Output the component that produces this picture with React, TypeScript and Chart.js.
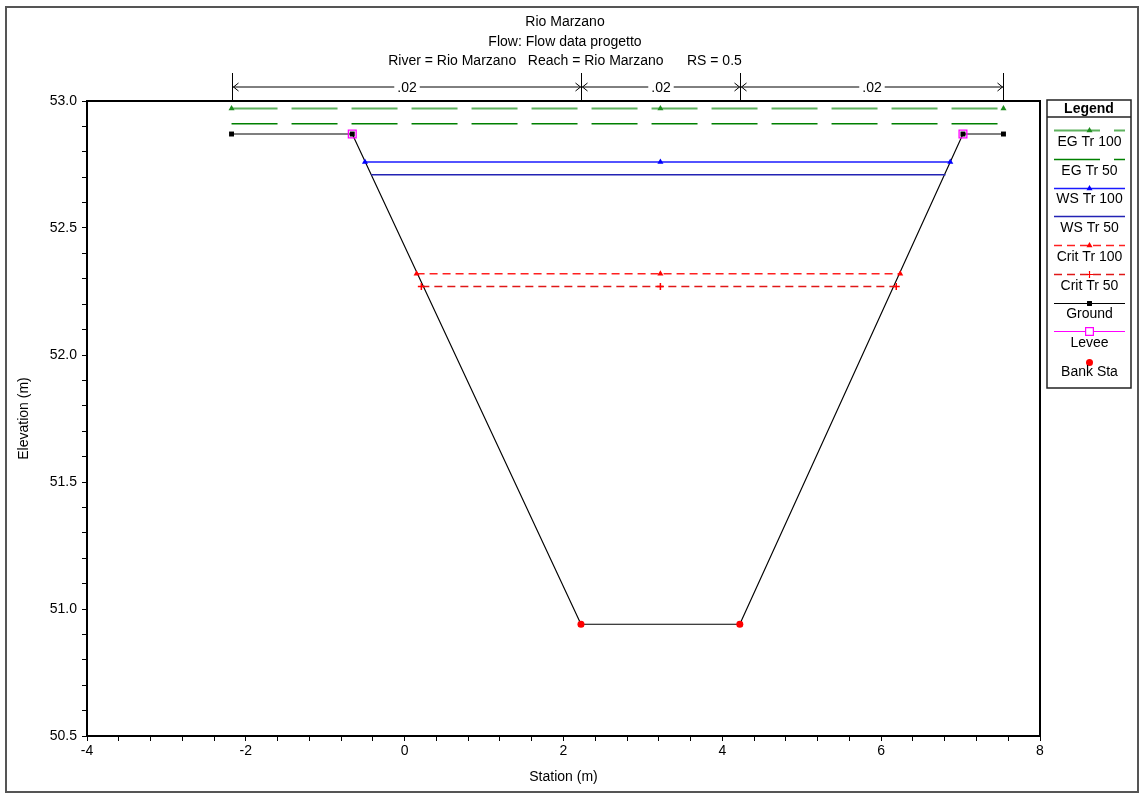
import React, { useEffect, useRef } from 'react';
import { Chart, registerables } from 'chart.js';

Chart.register(...registerables);

// ---------- Text ----------
const titleLines = [
  'Rio Marzano',
  'Flow: Flow data progetto',
  'River = Rio Marzano   Reach = Rio Marzano      RS = 0.5',
];
const xAxisTitle = 'Station (m)';
const yAxisTitle = 'Elevation (m)';
const legendTitle = 'Legend';

// ---------- Data ----------
const groundSta = [-2.18, -0.66, 2.22, 4.22, 7.03, 7.54];
const groundElev = [52.87, 52.87, 50.94, 50.94, 52.87, 52.87];

const leveeSta = [-0.66, 7.03];
const leveeElev = [52.87, 52.87];

const bankSta = [2.22, 4.22];
const bankElev = [50.94, 50.94];

const egTr100Sta = [-2.18, 3.22, 7.54];
const egTr100Elev = [52.97, 52.97, 52.97];

const egTr50Sta = [-2.18, 7.54];
const egTr50Elev = [52.91, 52.91];

const wsTr100Sta = [-0.5, 3.22, 6.87];
const wsTr100Elev = [52.76, 52.76, 52.76];

const wsTr50Sta = [-0.42, 6.81];
const wsTr50Elev = [52.71, 52.71];

const critTr100Sta = [0.15, 3.22, 6.24];
const critTr100Elev = [52.32, 52.32, 52.32];

const critTr50Sta = [0.21, 3.22, 6.19];
const critTr50Elev = [52.27, 52.27, 52.27];

// Manning's n regions
const nBreaks = [-2.18, 2.22, 4.22, 7.54];
const nValues = ['.02', '.02', '.02'];

// Axes
const xMin = -4;
const xMax = 8;
const xMinorStep = 0.4;
const xLabelStep = 2;
const yMin = 50.5;
const yMax = 53.0;
const yMinorStep = 0.1;
const yLabelStep = 0.5;

const FONT = '"Liberation Sans", Arial, sans-serif';

const pts = (xs: number[], ys: number[]) => xs.map((x, i) => ({ x, y: ys[i] }));

function drawMarker(ctx: CanvasRenderingContext2D, style: string, x: number, y: number, r: number, color: string, fill: boolean) {
  ctx.save();
  ctx.setLineDash([]);
  ctx.strokeStyle = color;
  ctx.fillStyle = color;
  ctx.lineWidth = 1.2;
  ctx.beginPath();
  if (style === 'triangle') {
    ctx.moveTo(x, y - r);
    ctx.lineTo(x + r * 0.866, y + r * 0.5);
    ctx.lineTo(x - r * 0.866, y + r * 0.5);
    ctx.closePath();
    ctx.fill();
  } else if (style === 'cross') {
    ctx.moveTo(x - r, y);
    ctx.lineTo(x + r, y);
    ctx.moveTo(x, y - r);
    ctx.lineTo(x, y + r);
    ctx.stroke();
  } else if (style === 'rect') {
    const s = r * Math.SQRT1_2;
    if (fill) {
      ctx.rect(x - s, y - s, 2 * s, 2 * s);
      ctx.fill();
    } else {
      ctx.fillStyle = '#fff';
      ctx.fillRect(x - s, y - s, 2 * s, 2 * s);
      ctx.rect(x - s, y - s, 2 * s, 2 * s);
      ctx.stroke();
    }
  } else if (style === 'circle') {
    ctx.arc(x, y, r, 0, Math.PI * 2);
    ctx.fill();
  }
  ctx.restore();
}

const decorPlugin = {
  id: 'decor',
  beforeDraw(chart: any) {
    const ctx = chart.ctx;
    ctx.save();
    ctx.fillStyle = '#ffffff';
    ctx.fillRect(0, 0, chart.width, chart.height);
    ctx.restore();
  },
  afterDraw(chart: any) {
    const ctx: CanvasRenderingContext2D = chart.ctx;
    const ca = chart.chartArea;
    const xs = chart.scales.x;
    ctx.save();

    // outer frame
    ctx.strokeStyle = '#555';
    ctx.lineWidth = 2;
    ctx.strokeRect(6, 7, 1132, 785);

    // plot frame
    ctx.strokeStyle = '#000';
    ctx.lineWidth = 2;
    ctx.strokeRect(ca.left, ca.top, ca.right - ca.left, ca.bottom - ca.top);

    // titles
    ctx.fillStyle = '#000';
    ctx.font = `14px ${FONT}`;
    ctx.textAlign = 'center';
    ctx.textBaseline = 'middle';
    const titleYs = [22, 42, 61];
    titleLines.forEach((t, i) => ctx.fillText(t, 565, titleYs[i]));

    // Manning's n annotation
    const yA = 87;
    ctx.lineWidth = 1;
    ctx.strokeStyle = '#000';
    const bx = nBreaks.map((b) => Math.round(xs.getPixelForValue(b)) + 0.5);
    bx.forEach((px) => {
      ctx.beginPath();
      ctx.moveTo(px, 73);
      ctx.lineTo(px, ca.top);
      ctx.stroke();
    });
    for (let i = 0; i < nValues.length; i++) {
      const a = bx[i];
      const b = bx[i + 1];
      const mid = (a + b) / 2;
      const tw = ctx.measureText(nValues[i]).width;
      ctx.beginPath();
      ctx.moveTo(a, yA);
      ctx.lineTo(mid - tw / 2 - 3, yA);
      ctx.moveTo(mid + tw / 2 + 3, yA);
      ctx.lineTo(b, yA);
      // arrowheads
      ctx.moveTo(a + 6, yA - 4);
      ctx.lineTo(a + 1, yA);
      ctx.lineTo(a + 6, yA + 4);
      ctx.moveTo(b - 6, yA - 4);
      ctx.lineTo(b - 1, yA);
      ctx.lineTo(b - 6, yA + 4);
      ctx.stroke();
      ctx.fillText(nValues[i], mid, yA + 1);
    }

    // Legend
    const lx0 = 1047;
    const lx1 = 1131;
    ctx.strokeStyle = '#222';
    ctx.lineWidth = 1.5;
    ctx.strokeRect(lx0, 100, lx1 - lx0, 288);
    ctx.beginPath();
    ctx.moveTo(lx0, 117);
    ctx.lineTo(lx1, 117);
    ctx.stroke();
    ctx.font = `bold 14px ${FONT}`;
    ctx.fillText(legendTitle, (lx0 + lx1) / 2, 109);
    ctx.font = `14px ${FONT}`;
    const cx = 1089.5;
    const pitch = 28.75;
    chart.data.datasets.forEach((ds: any, i: number) => {
      const lineY = Math.round(130 + pitch * i) + 0.5;
      const textY = 142 + pitch * i;
      if (ds.showLine || ds.legendLine) {
        ctx.save();
        ctx.strokeStyle = ds.borderColor;
        ctx.lineWidth = ds.borderWidth;
        ctx.setLineDash(ds.borderDash || []);
        ctx.beginPath();
        ctx.moveTo(1054, lineY);
        ctx.lineTo(1125, lineY);
        ctx.stroke();
        ctx.restore();
      }
      if (ds.pointRadius > 0) {
        const isOpen = ds.pointBackgroundColor === 'transparent';
        const my = ds.showLine || ds.legendLine ? lineY : lineY + 2;
        drawMarker(ctx, ds.pointStyle, cx, my, ds.pointRadius, ds.pointBorderColor, !isOpen);
      }
      ctx.fillStyle = '#000';
      ctx.fillText(ds.label, cx, textY);
    });

    ctx.restore();
  },
};

export default function App() {
  const ref = useRef<HTMLCanvasElement>(null);

  useEffect(() => {
    if (!ref.current) return;
    const chart = new Chart(ref.current, {
      type: 'scatter',
      data: {
        datasets: [
          {
            label: 'EG Tr 100',
            data: pts(egTr100Sta, egTr100Elev),
            showLine: true,
            borderColor: 'rgb(95,178,95)',
            borderWidth: 2,
            borderDash: [46, 14],
            pointStyle: 'triangle',
            pointRadius: 3.5,
            pointBackgroundColor: 'rgb(30,140,30)',
            pointBorderColor: 'rgb(30,140,30)',
            pointBorderWidth: 0,
          },
          {
            label: 'EG Tr 50',
            data: pts(egTr50Sta, egTr50Elev),
            showLine: true,
            borderColor: '#008000',
            borderWidth: 1.5,
            borderDash: [46, 14],
            pointStyle: 'circle',
            pointRadius: 0,
            pointBackgroundColor: '#008000',
            pointBorderColor: '#008000',
          },
          {
            label: 'WS Tr 100',
            data: pts(wsTr100Sta, wsTr100Elev),
            showLine: true,
            borderColor: '#1a1aff',
            borderWidth: 1.5,
            pointStyle: 'triangle',
            pointRadius: 3.5,
            pointBackgroundColor: '#0000ff',
            pointBorderColor: '#0000ff',
            pointBorderWidth: 0,
          },
          {
            label: 'WS Tr 50',
            data: pts(wsTr50Sta, wsTr50Elev),
            showLine: true,
            borderColor: '#2323b4',
            borderWidth: 1.5,
            pointStyle: 'circle',
            pointRadius: 0,
            pointBackgroundColor: '#2323b4',
            pointBorderColor: '#2323b4',
          },
          {
            label: 'Crit Tr 100',
            data: pts(critTr100Sta, critTr100Elev),
            showLine: true,
            borderColor: '#ff2020',
            borderWidth: 1.5,
            borderDash: [8, 5],
            pointStyle: 'triangle',
            pointRadius: 3.5,
            pointBackgroundColor: '#ff0000',
            pointBorderColor: '#ff0000',
            pointBorderWidth: 0,
          },
          {
            label: 'Crit Tr 50',
            data: pts(critTr50Sta, critTr50Elev),
            showLine: true,
            borderColor: '#e01818',
            borderWidth: 1.5,
            borderDash: [8, 5],
            pointStyle: 'cross',
            pointRadius: 3.5,
            pointBackgroundColor: '#ff0000',
            pointBorderColor: '#ff0000',
            pointBorderWidth: 1.5,
          },
          {
            label: 'Ground',
            data: pts(groundSta, groundElev),
            showLine: true,
            borderColor: '#000000',
            borderWidth: 1.2,
            pointStyle: 'rect',
            pointRadius: 3.5,
            pointBackgroundColor: '#000000',
            pointBorderColor: '#000000',
            pointBorderWidth: 0,
          },
          {
            label: 'Levee',
            data: pts(leveeSta, leveeElev),
            showLine: false,
            legendLine: true,
            borderColor: '#ff00ff',
            borderWidth: 1,
            pointStyle: 'rect',
            pointRadius: 5.5,
            pointBackgroundColor: 'transparent',
            pointBorderColor: '#ff00ff',
            pointBorderWidth: 1.3,
            order: -1,
          },
          {
            label: 'Bank Sta',
            data: pts(bankSta, bankElev),
            showLine: false,
            borderColor: '#ff0000',
            borderWidth: 1,
            pointStyle: 'circle',
            pointRadius: 3.5,
            pointBackgroundColor: '#ff0000',
            pointBorderColor: '#ff0000',
            pointBorderWidth: 0,
            order: -2,
          },
        ] as any,
      },
      options: {
        animation: false,
        responsive: false,
        devicePixelRatio: 1,
        events: [],
        layout: { padding: { left: 0, right: 103, top: 101, bottom: 0 } },
        plugins: {
          legend: { display: false },
          tooltip: { enabled: false },
          title: { display: false },
        },
        scales: {
          x: {
            type: 'linear',
            min: xMin,
            max: xMax,
            afterFit: (s: any) => {
              s.height = 58;
            },
            border: { display: false },
            grid: {
              display: true,
              drawOnChartArea: false,
              drawTicks: true,
              tickLength: 5,
              color: '#000',
              lineWidth: 1,
            },
            ticks: {
              stepSize: xMinorStep,
              autoSkip: false,
              maxRotation: 0,
              padding: 2,
              color: '#000',
              font: { family: FONT, size: 14 },
              callback: (value: any) => {
                const v = Number(value);
                const r = v / xLabelStep;
                return Math.abs(r - Math.round(r)) < 1e-6 ? String(Math.round(v)) : '';
              },
            },
            title: {
              display: true,
              text: xAxisTitle,
              color: '#000',
              font: { family: FONT, size: 14 },
              padding: { top: 0, bottom: 8 },
            },
          },
          y: {
            type: 'linear',
            min: yMin,
            max: yMax,
            afterFit: (s: any) => {
              s.width = 87;
            },
            border: { display: false },
            grid: {
              display: true,
              drawOnChartArea: false,
              drawTicks: true,
              tickLength: 5,
              color: '#000',
              lineWidth: 1,
            },
            ticks: {
              stepSize: yMinorStep,
              autoSkip: false,
              padding: 5,
              color: '#000',
              font: { family: FONT, size: 14 },
              callback: (value: any) => {
                const v = Number(value);
                const r = v / yLabelStep;
                return Math.abs(r - Math.round(r)) < 1e-6 ? v.toFixed(1) : '';
              },
            },
            title: {
              display: true,
              text: yAxisTitle,
              color: '#000',
              font: { family: FONT, size: 14 },
              padding: { top: 16, bottom: 0 },
            },
          },
        },
      } as any,
      plugins: [decorPlugin],
    });
    return () => chart.destroy();
  }, []);

  return (
    <div style={{ position: 'absolute', left: 0, top: 0, width: 1143, height: 794 }}>
      <canvas ref={ref} width={1143} height={794} style={{ display: 'block' }} />
    </div>
  );
}
